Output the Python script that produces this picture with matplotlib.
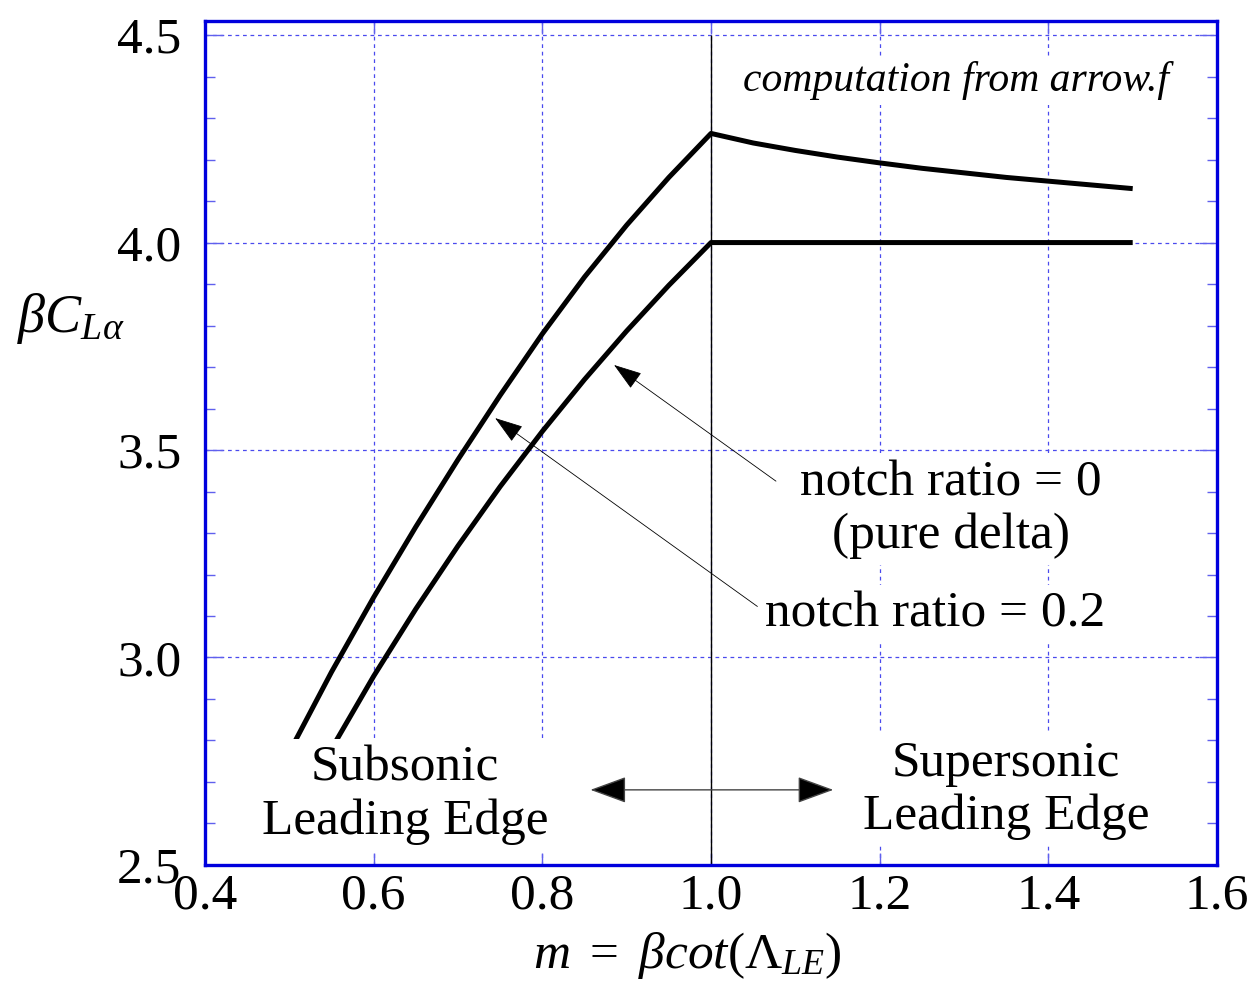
import matplotlib
matplotlib.use("Agg")
import matplotlib.pyplot as plt
from matplotlib.ticker import MultipleLocator, FormatStrFormatter

plt.rcParams['font.family'] = ['Liberation Serif', 'DejaVu Serif']
plt.rcParams['mathtext.fontset'] = 'custom'
plt.rcParams['mathtext.rm'] = 'Liberation Serif'
plt.rcParams['mathtext.it'] = 'Liberation Serif:italic'

# lift-curve slope vs. leading-edge parameter m
m_sub = [0.50, 0.55, 0.60, 0.65, 0.70, 0.75, 0.80, 0.85, 0.90, 0.95, 1.00]
m_sup = [1.05, 1.10, 1.15, 1.20, 1.25, 1.30, 1.35, 1.40, 1.45, 1.50]

# notch ratio = 0 (pure delta)
cla_delta = [2.594, 2.780, 2.955, 3.117, 3.269, 3.412, 3.545, 3.670, 3.787, 3.897, 4.000,
             4.000, 4.000, 4.000, 4.000, 4.000, 4.000, 4.000, 4.000, 4.000, 4.000]
# notch ratio = 0.2
cla_notch = [2.772, 2.965, 3.145, 3.315, 3.477, 3.632, 3.780, 3.917, 4.042, 4.157, 4.263,
             4.240, 4.222, 4.206, 4.192, 4.179, 4.168, 4.157, 4.148, 4.139, 4.130]

m_all = m_sub + m_sup
m_sonic = 1.0

blue = '#0000dd'
tickblue = '#6060ee'
gridblue = '#4a4aee'

fig = plt.figure(figsize=(12.53, 9.9), dpi=100)
ax = fig.add_axes([0.1636, 0.1263, 0.8077, 0.8525])

for cla in (cla_notch, cla_delta):
    ax.plot(m_all, cla, color='black', lw=3.6, zorder=3,
            solid_joinstyle='round', solid_capstyle='butt')
ax.vlines(m_sonic, 2.5, 4.5, color='black', lw=1.0, zorder=2)

ax.set_xlim(0.4, 1.6)
ax.set_ylim(2.5, 4.534)
ax.xaxis.set_major_locator(MultipleLocator(0.2))
ax.yaxis.set_major_locator(MultipleLocator(0.5))
ax.yaxis.set_minor_locator(MultipleLocator(0.1))
ax.xaxis.set_major_formatter(FormatStrFormatter('%.1f'))
ax.yaxis.set_major_formatter(FormatStrFormatter('%.1f'))

ax.grid(True, which='major', color=gridblue, lw=0.9, ls=(0, (3, 3)), zorder=1)
ax.set_axisbelow(True)

for s in ax.spines.values():
    s.set_color(blue)
    s.set_linewidth(2.4)

ax.tick_params(axis='x', which='major', direction='in', top=True, length=9,
               width=1, color=tickblue, labelsize=37, pad=6)
ax.tick_params(axis='y', which='major', direction='in', right=True, length=13,
               width=1, color=tickblue, labelsize=37, pad=17)
ax.tick_params(axis='y', which='minor', direction='in', right=True, length=7,
               width=1, color=tickblue)

ax.set_xlabel(r'$m\ =\ \beta cot(\Lambda_{LE})$', fontsize=37)
ax.xaxis.set_label_coords(0.477, -0.077)
ax.set_ylabel(r'$\beta C_{L\alpha}$', fontsize=39, rotation=0)
ax.yaxis.set_label_coords(-0.133, 0.615)

box = dict(boxstyle='square,pad=0.12', facecolor='white', edgecolor='none')

ax.text(1.290, 4.391, 'computation from arrow.f', style='italic', fontsize=30,
        ha='center', va='center', bbox=box, zorder=5)
ax.text(1.284, 3.357, 'notch ratio = 0\n(pure delta)', fontsize=37, ha='center',
        va='center', linespacing=1.18, bbox=box, zorder=5)
ax.text(1.266, 3.104, 'notch ratio = 0.2', fontsize=37, ha='center', va='center',
        bbox=box, zorder=5)
ax.text(0.637, 2.669, 'Subsonic\nLeading Edge', fontsize=37, ha='center',
        va='center', linespacing=1.18, bbox=box, zorder=5)
ax.text(1.350, 2.681, 'Supersonic\nLeading Edge', fontsize=37, ha='center',
        va='center', linespacing=1.18, bbox=box, zorder=5)

pointer = dict(arrowstyle='-|>,head_length=0.9,head_width=0.3', color='black',
               lw=0.6, shrinkA=0, shrinkB=0, mutation_scale=20)
ax.annotate('', xy=(0.885, 3.705), xytext=(1.077, 3.425), arrowprops=pointer, zorder=6)
ax.annotate('', xy=(0.744, 3.577), xytext=(1.055, 3.123), arrowprops=pointer, zorder=6)

ax.annotate('', xy=(0.857, 2.681), xytext=(1.145, 2.681),
            arrowprops=dict(arrowstyle='<|-|>,head_length=1.15,head_width=0.42',
                            facecolor='black', edgecolor='#444444', lw=1.0,
                            shrinkA=0, shrinkB=0, mutation_scale=20), zorder=4)

fig.savefig('out.png', dpi=100, facecolor='white')
